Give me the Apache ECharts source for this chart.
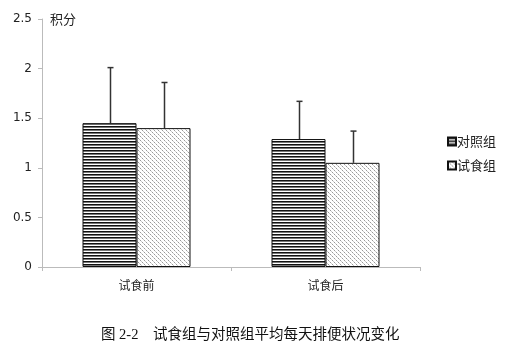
<!DOCTYPE html>
<html>
<head>
<meta charset="utf-8">
<script src="https://cdn.jsdelivr.net/npm/echarts@6/dist/echarts.min.js"></script>
<style>
  html, body { margin: 0; padding: 0; background: #fff; }
  #chart { width: 510px; height: 355px; }
</style>
</head>
<body>
<div id="chart"></div>
<script>
const categories = ['试食前', '试食后']
const controlMean = [1.45, 1.29]
const controlSD = [0.56, 0.38]
const testMean = [1.40, 1.05]
const testSD = [0.46, 0.32]
const yTicks = [0, 0.5, 1, 1.5, 2, 2.5]

// stripe fill for 对照组
const makeStripes = () => {
  const c = document.createElement('canvas')
  c.width = 4
  c.height = 3
  const ctx = c.getContext('2d')
  ctx.fillStyle = '#fff'
  ctx.fillRect(0, 0, 4, 3)
  ctx.fillStyle = '#111'
  ctx.fillRect(0, 0, 4, 1)
  ctx.fillStyle = '#777'
  ctx.fillRect(0, 1, 4, 1)
  return c
}

// dotted fill for 试食组
const makeDots = () => {
  const c = document.createElement('canvas')
  c.width = 4
  c.height = 4
  const ctx = c.getContext('2d')
  ctx.fillStyle = '#fff'
  ctx.fillRect(0, 0, 4, 4)
  ctx.fillStyle = '#999'
  ctx.fillRect(0, 0, 1, 1)
  ctx.fillRect(2, 2, 1, 1)
  ctx.fillStyle = '#ccc'
  ctx.fillRect(1, 1, 1, 1)
  ctx.fillRect(3, 3, 1, 1)
  return c
}

const stripeFill = { image: makeStripes(), repeat: 'repeat' }
const dotFill = { image: makeDots(), repeat: 'repeat' }

const BAR_W = 54

const errorSeries = (means, sds, offset) => ({
  type: 'custom',
  silent: true,
  z: 1,
  data: means.map((m, i) => [i, m, m + sds[i]]),
  renderItem: (params, api) => {
    const base = api.coord([api.value(0), api.value(1)])
    const top = api.coord([api.value(0), api.value(2)])
    const x = Math.round(base[0] + offset) + 0.5
    return {
      type: 'group',
      children: [
        {
          type: 'line',
          shape: { x1: x, y1: base[1], x2: x, y2: top[1] },
          style: { stroke: '#333', lineWidth: 1.5 }
        },
        {
          type: 'line',
          shape: { x1: x - 3, y1: top[1], x2: x + 3, y2: top[1] },
          style: { stroke: '#333', lineWidth: 1.5 }
        }
      ]
    }
  }
})

const chart = echarts.init(document.getElementById('chart'))
chart.setOption({
  backgroundColor: '#fff',
  animation: false,
  title: {
    text: '图 2-2    试食组与对照组平均每天排便状况变化',
    left: 96,
    top: 323,
    textStyle: {
      fontFamily: "'Liberation Serif', 'Noto Sans CJK SC'",
      fontSize: 14.5,
      fontWeight: 'normal',
      color: '#111'
    }
  },
  legend: {
    orient: 'vertical',
    left: 442,
    top: 130,
    itemWidth: 8,
    itemHeight: 8,
    itemGap: 11,
    icon: 'rect',
    textStyle: {
      fontFamily: "'Noto Sans CJK SC'",
      fontSize: 13,
      color: '#222',
      padding: [0, 0, 0, -4]
    },
    data: ['对照组', '试食组']
  },
  grid: {
    left: 42,
    right: 90,
    top: 19,
    bottom: 88
  },
  xAxis: {
    type: 'category',
    data: categories,
    axisLine: { lineStyle: { color: '#bbb' } },
    axisTick: { show: true, alignWithLabel: false, length: 4, lineStyle: { color: '#bbb' } },
    axisLabel: {
      color: '#222',
      fontSize: 12,
      margin: 12,
      fontFamily: "'Noto Sans CJK SC'"
    }
  },
  yAxis: {
    type: 'value',
    name: '积分',
    nameLocation: 'end',
    nameGap: 0,
    nameTextStyle: {
      align: 'left',
      verticalAlign: 'middle',
      padding: [0, 0, 0, 8],
      color: '#222',
      fontSize: 13,
      fontFamily: "'Noto Sans CJK SC'"
    },
    min: yTicks[0],
    max: yTicks[yTicks.length - 1],
    interval: 0.5,
    axisLine: { show: true, lineStyle: { color: '#bbb' } },
    axisTick: { show: true, length: 4, lineStyle: { color: '#bbb' } },
    splitLine: { show: false },
    axisLabel: {
      color: '#222',
      fontSize: 12,
      margin: 10,
      fontFamily: "'DejaVu Sans', sans-serif"
    }
  },
  series: [
    {
      name: '对照组',
      type: 'bar',
      data: controlMean,
      barWidth: BAR_W,
      barGap: '0%',
      z: 2,
      itemStyle: { color: stripeFill, borderColor: '#111', borderWidth: 1 }
    },
    {
      name: '试食组',
      type: 'bar',
      data: testMean,
      barWidth: BAR_W,
      barGap: '0%',
      z: 2,
      itemStyle: { color: dotFill, borderColor: '#111', borderWidth: 1 }
    },
    errorSeries(controlMean, controlSD, -BAR_W / 2),
    errorSeries(testMean, testSD, BAR_W / 2)
  ]
})
</script>
</body>
</html>
